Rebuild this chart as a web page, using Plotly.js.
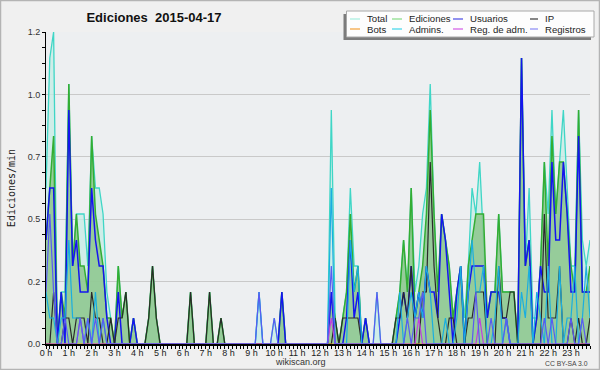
<!DOCTYPE html>
<html>
<head>
<meta charset="utf-8">
<script src="https://cdn.plot.ly/plotly-3.0.1.min.js"></script>
<style>
html,body{margin:0;padding:0;background:#f0f0f0;}
#chart{width:600px;height:370px;}
</style>
</head>
<body>
<div id="chart"></div>
<script>
// 10-minute slots over the day (values in edits per minute)
const hourLabels = ['0 h','1 h','2 h','3 h','4 h','5 h','6 h','7 h','8 h','9 h','10 h','11 h',
                    '12 h','13 h','14 h','15 h','16 h','17 h','18 h','19 h','20 h','21 h','22 h','23 h'];
const yTickVals = [0, 0.24, 0.48, 0.72, 0.96, 1.2];
const yTickText = ['0.0','0.2','0.5','0.7','1.0','1.2'];

const total = [
 0.6,1.1,1.2,0,0.2,0.2,1.0,0.3,0.5,0.5,0.5,0.3,
 0.8,0.6,0.6,0.5,0.2,0.1,0,0.3,0.1,0.2,0,0.1,
 0,0,0,0.1,0.3,0.1,0,0,0,0,0,0,
 0,0,0.2,0,0,0,0,0.2,0,0,0.1,0,
 0,0,0,0,0,0,0,0,0.2,0,0,0,
 0.1,0,0.2,0,0,0,0,0,0,0,0,0,
 0,0,0,0.9,0.1,0,0.1,0.2,0.6,0.3,0.3,0,
 0.1,0,0,0.2,0,0,0,0,0.1,0.2,0.4,0.2,
 0.6,0.2,0.3,0.5,0.6,1.0,0.5,0.2,0.5,0.4,0.3,0.1,
 0.2,0.3,0.1,0.3,0.6,0.5,0.7,0.4,0.1,0.2,0.2,0.5,
 0.2,0.2,0.2,0.2,0,1.1,0.3,0.6,0.1,0.1,0.3,0.7,
 0.5,0.9,0.5,0.7,0.9,0.6,0.3,0.3,0.9,0.4,0.3,0.4];

const ediciones = [
 0.4,0.6,0.8,0,0.2,0.1,1.0,0.3,0.5,0.3,0.3,0.2,
 0.8,0.5,0.4,0.3,0.1,0.1,0,0.3,0.1,0.2,0,0.1,
 0,0,0,0.1,0.3,0.1,0,0,0,0,0,0,
 0,0,0.2,0,0,0,0,0.2,0,0,0.1,0,
 0,0,0,0,0,0,0,0,0,0,0,0,
 0,0,0.2,0,0,0,0,0,0,0,0,0,
 0,0,0,0.2,0.1,0,0.1,0.2,0.5,0.2,0.3,0,
 0.1,0,0,0,0,0,0,0,0.1,0.2,0.4,0.2,
 0.6,0.1,0.2,0.3,0.5,0.9,0.5,0.2,0.5,0.4,0.3,0.1,
 0.2,0.3,0,0.3,0.4,0.5,0.5,0.5,0.1,0.2,0.2,0.5,
 0.2,0.2,0.2,0.2,0,1.1,0.3,0.4,0,0.1,0.3,0.7,
 0.3,0.8,0.5,0.7,0.7,0.5,0.3,0.2,0.9,0.2,0.2,0.3];

const usuarios = [
 0.4,0.6,0.6,0,0.2,0,0.9,0.3,0.4,0.2,0.2,0.2,
 0.6,0.4,0.3,0.3,0.1,0,0,0.2,0,0,0,0.1,
 0,0,0,0,0,0,0,0,0,0,0,0,
 0,0,0,0,0,0,0,0,0,0,0,0,
 0,0,0,0,0,0,0,0,0,0,0,0,
 0,0,0.2,0,0,0,0,0,0,0,0,0,
 0,0,0,0.2,0,0,0,0.1,0.4,0.1,0.2,0,
 0.1,0,0,0,0,0,0,0,0,0.1,0.2,0.1,
 0.3,0.1,0.2,0.1,0.3,0.2,0.2,0.1,0.5,0.4,0.2,0,
 0.2,0.3,0,0.2,0.3,0.3,0.3,0.3,0.1,0.2,0.2,0.2,
 0.1,0.1,0,0,0,1.1,0.3,0.4,0,0.1,0.3,0.2,
 0.2,0.7,0.4,0.4,0.7,0.5,0.2,0.2,0.8,0.2,0.2,0.2];

const ip = [
 0,0,0.2,0,0,0.1,0.1,0,0.1,0.1,0.1,0,
 0.2,0.1,0.1,0,0,0.1,0,0.1,0.1,0.2,0,0,
 0,0,0,0.1,0.3,0.1,0,0,0,0,0,0,
 0,0,0.2,0,0,0,0,0.2,0,0,0.1,0,
 0,0,0,0,0,0,0,0,0,0,0,0,
 0,0,0,0,0,0,0,0,0,0,0,0,
 0,0,0,0,0.1,0,0.1,0.1,0.1,0.1,0.1,0,
 0,0,0,0,0,0,0,0,0.1,0.1,0.2,0.1,
 0.3,0,0,0.2,0.2,0.7,0.3,0.1,0,0,0.1,0.1,
 0,0,0,0.1,0.1,0.2,0.2,0.2,0,0,0,0.3,
 0.1,0.1,0.2,0.2,0,0,0,0,0,0,0,0.5,
 0.1,0.1,0.1,0.3,0,0,0.1,0,0.1,0,0,0.1];

const bots = [
 0,0,0,0,0,0,0,0,0,0,0,0,
 0,0,0,0,0,0,0,0,0,0,0,0,
 0,0,0,0,0,0,0,0,0,0,0,0,
 0,0,0,0,0,0,0,0,0,0,0,0,
 0,0,0,0,0,0,0,0,0,0,0,0,
 0,0,0,0,0,0,0,0,0,0,0,0,
 0,0,0,0,0,0,0,0,0,0,0,0,
 0,0,0,0,0,0,0,0,0,0,0,0,
 0,0,0,0,0,0,0,0,0,0,0,0,
 0,0,0,0,0,0,0,0,0,0,0,0,
 0,0,0,0,0,0,0,0,0,0,0,0,
 0,0,0,0,0,0,0,0,0,0,0,0];

const admins = [
 0.2,0.1,0.1,0,0.1,0.1,0.4,0.1,0.1,0.1,0,0.1,
 0,0.2,0,0.1,0,0,0,0,0,0,0,0,
 0,0,0,0,0,0,0,0,0,0,0,0,
 0,0,0,0,0,0,0,0,0,0,0,0,
 0,0,0,0,0,0,0,0,0.2,0,0,0,
 0,0,0,0,0,0,0,0,0,0,0,0,
 0,0,0,0.6,0,0,0,0,0.4,0.2,0.3,0,
 0,0,0,0,0,0,0,0,0,0.2,0,0.1,
 0.2,0.1,0.2,0.1,0.3,0.2,0,0,0,0.1,0,0,
 0.1,0.3,0,0.2,0.4,0.2,0.2,0.3,0,0,0.1,0.3,
 0,0.1,0,0,0,0.2,0.1,0.3,0,0.2,0.1,0,
 0.3,0,0,0.3,0,0.1,0.1,0.3,0,0.1,0.3,0.1];

const regAdm = [
 0,0,0,0,0,0,0,0,0,0.1,0,0,
 0,0,0,0,0,0,0,0,0,0,0,0,
 0,0,0,0,0,0,0,0,0,0,0,0,
 0,0,0,0,0,0,0,0,0,0,0,0,
 0,0,0,0,0,0,0,0,0,0,0,0,
 0,0,0,0,0,0,0,0,0,0,0,0,
 0,0,0,0.1,0,0,0,0,0,0,0,0,
 0,0,0,0,0,0,0,0,0,0,0,0,
 0,0,0.1,0,0,0,0,0,0,0,0,0,
 0,0,0,0,0,0,0.1,0,0,0,0,0,
 0,0,0,0,0,0,0,0,0,0,0,0,
 0,0,0,0,0,0,0,0,0,0,0,0];

const registros = [
 0.2,0.5,0.2,0,0,0.1,0,0,0,0.1,0,0.1,
 0,0.1,0,0.1,0,0,0,0,0,0,0,0,
 0,0,0,0,0,0,0,0,0,0,0,0,
 0,0,0,0,0,0,0,0,0,0,0,0,
 0,0,0,0,0,0,0,0,0.2,0,0,0,
 0.1,0,0,0,0,0,0,0,0,0,0,0,
 0,0,0,0.3,0,0,0,0,0,0,0,0,
 0,0,0,0.2,0,0,0,0,0,0,0,0.1,
 0,0.1,0.1,0.2,0,0,0,0,0,0,0,0,
 0,0,0,0,0,0.2,0,0,0,0.1,0,0,
 0,0.1,0,0,0,0,0,0,0,0,0,0.1,
 0,0.1,0,0,0,0,0.1,0,0,0.1,0,0];

const seriesNames = ['Total','Ediciones','Usuarios','IP','Bots','Admins.','Reg. de adm.','Registros'];

// ---- geometry helpers (pixel -> paper) ----
const PL = 46, PR = 590, PT = 32, PB = 344;
const PW = PR - PL, PH = PB - PT;
const px = x => (x - PL) / PW;
const py = y => (PB - y) / PH;

const slots = total.map((v, i) => i);
const hourTickVals = hourLabels.map((h, i) => i * 6);

function line(name, y, color, width, extra) {
  return Object.assign({
    type: 'scatter', mode: 'lines', name: name, x: slots, y: y,
    line: {color: color, width: width, shape: 'linear'},
    hoverinfo: 'skip', cliponaxis: true
  }, extra || {});
}

const traces = [
  line('Total', total, '#3fd6c6', 1.3, {fill: 'tozeroy', fillcolor: 'rgba(196,236,228,0.75)'}),
  line('Ediciones', ediciones, '#33ad33', 1.5, {fill: 'tozeroy', fillcolor: 'rgba(140,198,140,0.85)'}),
  line('Usuarios', usuarios, '#1414f0', 1.5),
  line('IP', ip, '#2a2a2a', 1.2),
  line('Bots', bots, '#f0a030', 1),
  line('Admins.', admins, '#1aaee0', 1.2),
  line('Reg. de adm.', regAdm, '#c23ee0', 1.2),
  line('Registros', registros, '#5a5af2', 1.2)
];

// ---- manual legend (box with shadow, line swatches, text) ----
const legendColors = ['#a6eee0','#86dc86','#4a4ae6','#3a3a3a','#f4a23a','#3ed6ea','#d35ae6','#8a8af6'];
const swatchX = [[350,360],[392,402],[453,463],[530,538]];
const textX = [366, 408, 469, 544];
const rowY = [19, 29];

const shapes = [
  // outer frame
  {type:'rect', xref:'paper', yref:'paper', x0:px(0.5), x1:px(599.5), y0:py(0.5), y1:py(369.5),
   line:{color:'#b4b4b4', width:1.5}, fillcolor:'rgba(0,0,0,0)', layer:'below'},
  // legend shadow
  {type:'rect', xref:'paper', yref:'paper', x0:px(343.5), x1:px(591), y0:py(14), y1:py(40),
   line:{width:0}, fillcolor:'#7c7c7c'},
  // legend box
  {type:'rect', xref:'paper', yref:'paper', x0:px(346.5), x1:px(594), y0:py(11), y1:py(37),
   line:{color:'#a8a8a8', width:1}, fillcolor:'#fdfdfd'}
];
const annotations = [];
seriesNames.forEach((n, i) => {
  const col = i % 4, row = Math.floor(i / 4);
  shapes.push({type:'line', xref:'paper', yref:'paper',
    x0:px(swatchX[col][0]), x1:px(swatchX[col][1]), y0:py(rowY[row]), y1:py(rowY[row]),
    line:{color:legendColors[i], width:1.2}});
  annotations.push({xref:'paper', yref:'paper', x:px(textX[col]), y:py(rowY[row]),
    xanchor:'left', yanchor:'middle', showarrow:false, text:n, borderpad:0,
    font:{family:'Liberation Sans, Arial, sans-serif', size:9.6, color:'#1e1e1e'}});
});
annotations.push({xref:'paper', yref:'paper', x:px(300), y:py(362), xanchor:'center', yanchor:'middle',
  showarrow:false, text:'wikiscan.org', borderpad:0, font:{family:'Liberation Sans, Arial, sans-serif', size:9, color:'#333'}});
annotations.push({xref:'paper', yref:'paper', x:px(589), y:py(363), xanchor:'right', yanchor:'middle',
  showarrow:false, text:'CC BY-SA 3.0', borderpad:0, font:{family:'Liberation Sans, Arial, sans-serif', size:6.8, color:'#444'}});

const layout = {
  width: 600, height: 370,
  margin: {l: PL, r: 600 - PR, t: PT, b: 370 - PB, pad: 0},
  paper_bgcolor: '#f0f0f0', plot_bgcolor: '#edeff1',
  showlegend: false,
  font: {family: 'Liberation Sans, Arial, sans-serif', size: 9, color: '#333'},
  title: {text: 'Ediciones\u00a0 2015-04-17', xref: 'container', yref: 'container',
          x: 154/600, xanchor: 'center', y: 1 - 17/370, yanchor: 'middle',
          font: {family: 'Liberation Sans, Arial, sans-serif', size: 13, color: '#111', weight: 'bold'}},
  xaxis: {
    range: [0, 143], fixedrange: true,
    tickmode: 'array', tickvals: hourTickVals, ticktext: hourLabels,
    ticks: 'outside', ticklen: 3, tickwidth: 1, tickcolor: '#000',
    showline: true, linecolor: '#000', linewidth: 2, mirror: false,
    showgrid: false, zeroline: false,
    tickfont: {family: 'Liberation Sans, Arial, sans-serif', size: 9, color: '#222'},
    ticklabelstandoff: -4,
    minor: {tickmode: 'linear', tick0: 0, dtick: 1, ticks: 'outside', ticklen: 3, tickwidth: 1, tickcolor: '#000', showgrid: false}
  },
  yaxis: {
    range: [0, 1.2], fixedrange: true,
    tickmode: 'array', tickvals: yTickVals, ticktext: yTickText,
    ticks: 'outside', ticklen: 3, tickwidth: 1, tickcolor: '#000',
    showline: true, linecolor: '#000', linewidth: 1,
    showgrid: true, gridcolor: '#c9c9c9', gridwidth: 1, zeroline: false,
    tickfont: {family: 'Liberation Sans, Arial, sans-serif', size: 9, color: '#333'},
    ticklabelstandoff: 0,
    minor: {tickmode: 'linear', tick0: 0, dtick: 0.06, ticks: 'outside', ticklen: 3, tickwidth: 1, tickcolor: '#000', showgrid: false},
    title: {text: 'Ediciones/min', standoff: 10,
            font: {family: 'DejaVu Sans Mono, monospace', size: 10, color: '#222'}},
    automargin: false
  },
  shapes: shapes,
  annotations: annotations
};

Plotly.newPlot('chart', traces, layout, {displayModeBar: false, staticPlot: true});
</script>
</body>
</html>
